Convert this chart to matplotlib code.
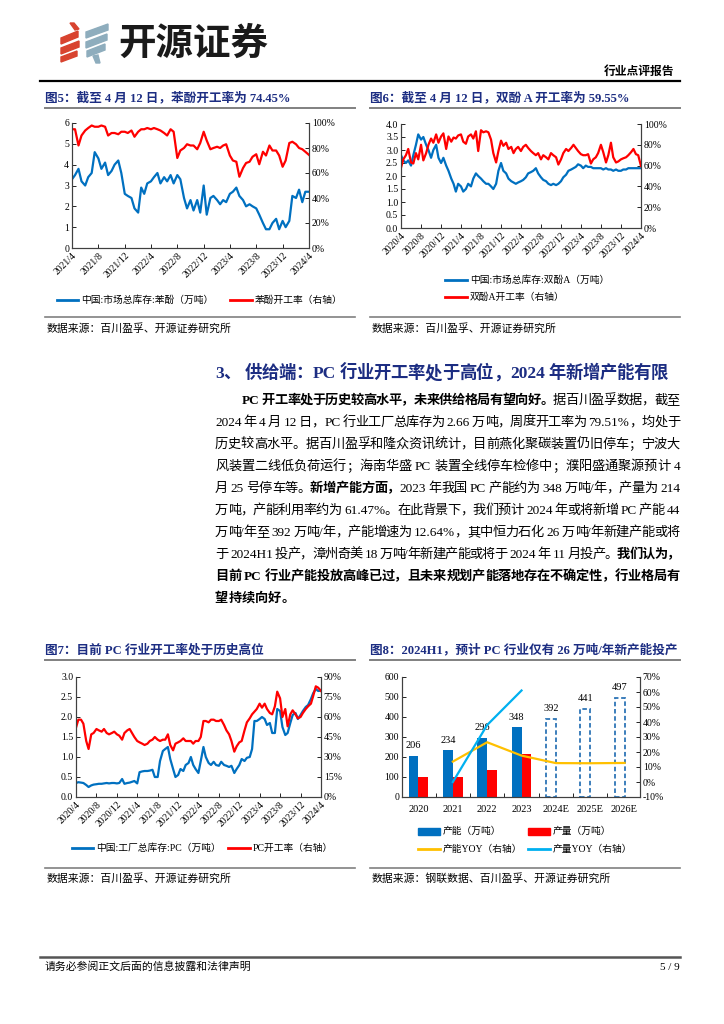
# 开源证券 行业点评报告 第5页：苯酚 / 双酚A / PC 开工率与库存

import numpy as np
import pandas as pd
import matplotlib
matplotlib.use('Agg')
import matplotlib.pyplot as plt
from matplotlib.font_manager import FontProperties
from matplotlib.patches import Polygon, Rectangle
from matplotlib.lines import Line2D
from matplotlib.ticker import FuncFormatter

# ---------------- data ----------------
# 图5 苯酚, semi-monthly from 2021/4
phenol_inv = [3.3, 3.5, 3.8, 3.2, 3.0, 3.4, 3.6, 4.6, 4.3, 3.8,
              4.1, 3.5, 3.7, 4.0, 4.2, 3.6, 2.6, 2.5, 2.4, 1.9,
              1.7, 2.9, 2.6, 3.1, 3.2, 3.4, 3.6, 3.1, 3.4, 3.2,
              3.5, 3.1, 3.5, 3.3, 2.4, 1.9, 2.3, 1.8, 2.3, 1.7,
              3.0, 1.6, 2.4, 2.5, 2.3, 2.1, 2.3, 2.2, 2.6, 2.7,
              2.9, 2.5, 2.3, 2.0, 2.1, 2.0, 1.9, 1.6, 1.2, 0.9,
              0.9, 1.2, 1.4, 0.9, 1.3, 1.0, 1.3, 2.5, 2.4, 2.8,
              2.2, 2.7, 2.7]
phenol_rate = [95, 95, 82, 90, 94, 96, 98, 97, 97, 98,
               97, 90, 92, 92, 91, 93, 93, 92, 94, 89,
               93, 95, 95, 96, 95, 96, 95, 94, 92, 90,
               95, 93, 72, 78, 80, 83, 82, 82, 79, 84,
               93, 86, 79, 80, 81, 80, 82, 83, 74, 70,
               69, 57, 64, 68, 69, 73, 75, 67, 77, 74,
               82, 78, 78, 74, 65, 70, 84, 85, 83, 80,
               79, 77, 74.45]

# 图6 双酚A, semi-monthly from 2020/4
bpa_inv = [2.8, 2.6, 2.5, 2.6, 2.4, 2.8, 3.2, 3.6, 3.4, 3.5,
           3.2, 3.0, 2.7, 3.0, 3.2, 2.7, 2.5, 2.7, 2.4, 2.2,
           1.9, 1.7, 1.4, 1.7, 1.6, 1.4, 1.5, 1.7, 1.6, 1.9,
           2.1, 2.0, 1.9, 1.8, 1.7, 1.7, 1.6, 1.5, 1.7, 2.2,
           2.5, 2.2, 2.1, 1.9, 1.8, 1.75, 1.7, 1.75, 1.8, 1.85,
           1.95, 2.1, 2.15, 2.2, 2.3, 2.1, 1.95, 1.85, 1.8, 1.7,
           1.65, 1.7, 1.65, 1.7, 1.8, 1.95, 2.05, 2.2, 2.25, 2.3,
           2.35, 2.45, 2.4, 2.3, 2.4, 2.35, 2.35, 2.3, 2.3, 2.3,
           2.3, 2.25, 2.3, 2.25, 2.25, 2.2, 2.25, 2.2, 2.2, 2.25,
           2.25, 2.3, 2.3, 2.3, 2.3, 2.3, 2.3]
bpa_rate = [58, 66, 70, 76, 63, 62, 72, 66, 80, 65,
            72, 80, 86, 82, 90, 82, 88, 91, 76, 88,
            83, 87, 86, 89, 90, 83, 81, 88, 90, 86,
            93, 74, 94, 92, 93, 92, 85, 72, 63, 74,
            84, 79, 82, 76, 78, 72, 76, 78, 74, 78,
            80, 77, 74, 72, 70, 72, 66, 70, 68, 66,
            72, 70, 68, 61, 66, 72, 76, 74, 77, 80,
            77, 74, 71, 70, 70, 71, 62, 66, 68, 72,
            80, 73, 63, 70, 82, 68, 63, 64, 66, 67,
            68, 70, 73, 76, 71, 70, 59.55]

# 图7 PC, semi-monthly from 2020/4
pc_inv = [0.35, 0.37, 0.36, 0.35, 0.3, 0.25, 0.29, 0.31, 0.32, 0.33,
          0.33, 0.34, 0.35, 0.34, 0.35, 0.35, 0.34, 0.35, 0.45, 0.33,
          0.35, 0.36, 0.38, 0.4, 0.34, 0.62, 0.64, 0.65, 0.65, 0.66,
          0.68, 0.5, 0.5, 0.9, 1.15, 1.2, 1.25, 0.95, 0.7, 0.5,
          0.55, 0.7, 0.65, 0.8, 0.85, 1.0, 0.8, 0.7, 0.6, 0.9,
          1.25, 1.0, 0.85, 0.8, 0.88, 0.8, 0.78, 0.88, 0.8, 0.78,
          0.75, 0.78, 0.6, 0.7, 0.8, 0.95, 0.9, 0.98, 1.0, 1.2,
          1.9, 1.9, 1.95, 2.0, 1.95, 1.8, 1.85, 1.6, 1.6, 2.2,
          2.15, 1.75, 1.55, 1.6, 1.85, 2.05, 2.1, 1.95, 2.05, 2.15,
          2.25, 2.3, 2.45, 2.6, 2.7, 2.65, 2.66]
pc_rate = [52, 58, 58, 55, 42, 36, 47, 48, 51, 50,
           49, 51, 48, 47, 48, 49, 47, 46, 43, 48,
           50, 51, 48, 45, 42, 41, 40, 39, 40, 42,
           43, 45, 43, 42, 43, 43, 47, 39, 35, 40,
           41, 42, 44, 42, 42, 42, 40, 42, 42, 45,
           57, 57, 56, 58, 58, 57, 57, 58, 54, 50,
           47, 42, 34, 38, 41, 42, 50, 56, 59, 62,
           64, 66, 70, 67, 70, 66, 63, 62, 68, 79,
           74, 60, 66, 53, 62, 65, 62, 59, 60, 63,
           66, 68, 70, 76, 83, 82, 79.51]

# 图8 PC 产能 / 产量
years8 = ['2020', '2021', '2022', '2023', '2024E', '2025E', '2026E']
capacity = [206, 234, 296, 348, 392, 441, 497]
output = [98, 98, 135, 214]
cap_yoy = [13.6, 26.5, 17.6, 12.6, 12.5, 12.7]   # from 2021
out_yoy = [0.0, 38.0, 61.0]                      # from 2021

body = [
    [('PC 开工率处于历史较高水平，未来供给格局有望向好。', True), ('据百川盈孚数据，截至', False)],
    [('2024 年 4 月 12 日，PC 行业工厂总库存为 2.66 万吨，周度开工率为 79.51%，均处于', False)],
    [('历史较高水平。据百川盈孚和隆众资讯统计，目前燕化聚碳装置仍旧停车；宁波大', False)],
    [('风装置二线低负荷运行；海南华盛 PC 装置全线停车检修中；濮阳盛通聚源预计 4', False)],
    [('月 25 号停车等。', False), ('新增产能方面，', True),
     ('2023 年我国 PC 产能约为 348 万吨/年，产量为 214', False)],
    [('万吨，产能利用率约为 61.47%。在此背景下，我们预计 2024 年或将新增 PC 产能 44', False)],
    [('万吨/年至 392 万吨/年，产能增速为 12.64%，其中恒力石化 26 万吨/年新建产能或将', False)],
    [('于 2024H1 投产，漳州奇美 18 万吨/年新建产能或将于 2024 年 11 月投产。', False), ('我们认为，', True)],
    [('目前 PC 行业产能投放高峰已过，且未来规划产能落地存在不确定性，行业格局有', True)],
    [('望持续向好。', True)],
]

# ---------------- styling ----------------
W, H = 724, 1024
FAM = ['Liberation Serif', 'Noto Sans CJK SC']
plt.rcParams['font.family'] = FAM
plt.rcParams['axes.unicode_minus'] = False

NAVY = '#1c2d82'
BLUE = '#0070c0'
RED = '#ff0000'
YELLOW = '#ffc000'
CYAN = '#00b0f0'
GREY = '#808080'

fig = plt.figure(figsize=(W / 100, H / 100), dpi=100)
fig.patch.set_facecolor('white')
renderer = fig.canvas.get_renderer()


def fx(x):
    return x / W


def fy(y):
    return 1 - y / H


def add_ax(x0, y0, x1, y1):
    return fig.add_axes([fx(x0), fy(y1), (x1 - x0) / W, (y1 - y0) / H])


def hline(x0, x1, y, color, lw):
    fig.add_artist(Line2D([fx(x0), fx(x1)], [fy(y), fy(y)], color=color, lw=lw,
                          transform=fig.transFigure))


def adv(s, size, bold):
    # advance width of a token in pixels
    fp = FontProperties(family=FAM, size=size, weight='bold' if bold else 'normal')
    w1 = renderer.get_text_width_height_descent('x' + s + 'x', fp, ismath=False)[0]
    w0 = renderer.get_text_width_height_descent('xx', fp, ismath=False)[0]
    return w1 - w0


def tokens(segs):
    out = []
    for s, bold in segs:
        buf = ''
        for ch in s:
            if ch.isascii() and ch != ' ':
                buf += ch
                continue
            if buf:
                out.append((buf, bold))
                buf = ''
            out.append((ch, bold))
        if buf:
            out.append((buf, bold))
    return out


def text_line(segs, x0, y, size, color='black', x1=None):
    toks = tokens(segs)
    ws = [adv(t, size, b) for t, b in toks]
    gap = 0
    if x1 is not None and len(toks) > 1:
        gap = (x1 - x0 - sum(ws)) / (len(toks) - 1)
    base = y + 0.36 * size * 100 / 72
    x = x0
    for (t, b), w in zip(toks, ws):
        if t != ' ':
            fig.text(fx(x), fy(base), t, fontsize=size, color=color,
                     fontweight='bold' if b else 'normal', ha='left', va='baseline')
        x += w + gap


def legend_line(x0, x1, y, color, label, lw=2.0):
    fig.add_artist(Line2D([fx(x0), fx(x1)], [fy(y), fy(y)], color=color, lw=lw,
                          transform=fig.transFigure))
    fig.text(fx(x1 + 3), fy(y), label, fontsize=7, va='center', ha='left')


def legend_box(x0, x1, y, color, label):
    fig.add_artist(Rectangle((fx(x0), fy(y + 3.5)), (x1 - x0) / W, 7 / H, color=color,
                             transform=fig.transFigure))
    fig.text(fx(x1 + 3), fy(y), label, fontsize=7, va='center', ha='left')


def style(ax, ax2):
    for a in (ax, ax2):
        a.spines['top'].set_visible(False)
        for s in a.spines.values():
            s.set_color('#404040')
            s.set_linewidth(0.8)
        a.tick_params(direction='in', length=3, width=0.6, labelsize=7, pad=2)


pct = FuncFormatter(lambda v, p: f'{v:.0f}%')


def date_axis(ax, start, end):
    ticks = pd.date_range(start, end, freq='4MS')
    ax.set_xlim(pd.Timestamp(start), pd.Timestamp(end))
    ax.set_xticks(ticks)
    ax.set_xticklabels([f'{d.year}/{d.month}' for d in ticks], rotation=45,
                       ha='right', rotation_mode='anchor')


# ---------------- header ----------------
red_bars = [[(70, 23), (74, 23), (79, 29), (75, 30)],
            [(61, 38), (78, 31), (78, 37), (61, 44)],
            [(61, 48), (79, 41), (79, 47), (61, 54)],
            [(61, 57), (77, 51), (77, 56), (61, 62)]]
grey_bars = [[(86, 32), (108, 24), (108, 30), (86, 38)],
             [(86, 42), (107, 34), (107, 40), (86, 48)],
             [(87, 51), (105, 44), (105, 50), (87, 57)],
             [(93, 56), (98, 55), (100, 63), (96, 63)]]
for pts in red_bars:
    fig.add_artist(Polygon([(fx(a), fy(b)) for a, b in pts], closed=True, color='#d8432f',
                           transform=fig.transFigure))
for pts in grey_bars:
    fig.add_artist(Polygon([(fx(a), fy(b)) for a, b in pts], closed=True, color='#8eadbd',
                           transform=fig.transFigure))
fig.text(fx(118), fy(43), '开源证券', fontsize=27, fontweight='bold', color='#1a1a1a',
         va='center', ha='left', family='Noto Sans CJK SC')
fig.text(fx(674), fy(72), '行业点评报告', fontsize=8.5, fontweight='bold', va='center', ha='right')
hline(40, 680, 81, 'black', 1.6)

# chart titles, top row
fig.text(fx(45), fy(98), '图5：截至 4 月 12 日，苯酚开工率为 74.45%', fontsize=9.1,
         fontweight='bold', color=NAVY, va='center')
fig.text(fx(370), fy(98), '图6：截至 4 月 12 日，双酚 A 开工率为 59.55%', fontsize=9.1,
         fontweight='bold', color=NAVY, va='center')
hline(45, 355, 108, GREY, 1.4)
hline(370, 680, 108, GREY, 1.4)

# ---------------- 图5 ----------------
ax5 = add_ax(72, 123, 309, 248)
ax5.plot(pd.date_range('2021-04-01', periods=len(phenol_inv), freq='SMS'), phenol_inv,
         color=BLUE, lw=1.6)
ax5b = ax5.twinx()
ax5b.plot(pd.date_range('2021-04-01', periods=len(phenol_rate), freq='SMS'), phenol_rate,
          color=RED, lw=1.6)
ax5.set_ylim(0, 6)
ax5.set_yticks(range(0, 7))
ax5b.set_ylim(0, 100)
ax5b.set_yticks(range(0, 101, 20))
ax5b.yaxis.set_major_formatter(pct)
date_axis(ax5, '2021-04-01', '2024-04-01')
style(ax5, ax5b)
legend_line(57, 78, 300, BLUE, '中国:市场总库存:苯酚（万吨）')
legend_line(230, 252, 300, RED, '苯酚开工率（右轴）')
hline(45, 355, 317, GREY, 1.2)
fig.text(fx(47), fy(328), '数据来源：百川盈孚、开源证券研究所', fontsize=7.8, va='center')

# ---------------- 图6 ----------------
ax6 = add_ax(401, 124, 641, 228)
ax6.plot(pd.date_range('2020-04-01', periods=len(bpa_inv), freq='SMS'), bpa_inv,
         color=BLUE, lw=1.6)
ax6b = ax6.twinx()
ax6b.plot(pd.date_range('2020-04-01', periods=len(bpa_rate), freq='SMS'), bpa_rate,
          color=RED, lw=1.6)
ax6.set_ylim(0, 4)
ax6.set_yticks(np.arange(0, 4.01, 0.5))
ax6.yaxis.set_major_formatter(FuncFormatter(lambda v, p: f'{v:.1f}'))
ax6b.set_ylim(0, 100)
ax6b.set_yticks(range(0, 101, 20))
ax6b.yaxis.set_major_formatter(pct)
date_axis(ax6, '2020-04-01', '2024-04-01')
style(ax6, ax6b)
legend_line(445, 467, 280, BLUE, '中国:市场总库存:双酚A（万吨）')
legend_line(445, 467, 297, RED, '双酚A开工率（右轴）')
hline(370, 680, 317, GREY, 1.2)
fig.text(fx(372), fy(328), '数据来源：百川盈孚、开源证券研究所', fontsize=7.8, va='center')

# ---------------- section text ----------------
text_line([('3、 供给端：PC 行业开工率处于高位，2024 年新增产能有限', True)], 215, 372, 12.5,
          color=NAVY, x1=668)
for i, segs in enumerate(body):
    x0 = 242 if i == 0 else 215
    x1 = None if i == len(body) - 1 else 680
    text_line(segs, x0, 399 + i * 22, 9.5, x1=x1)

# chart titles, bottom row
fig.text(fx(45), fy(650), '图7：目前 PC 行业开工率处于历史高位', fontsize=9.1,
         fontweight='bold', color=NAVY, va='center')
fig.text(fx(370), fy(650), '图8：2024H1，预计 PC 行业仅有 26 万吨/年新产能投产', fontsize=9.1,
         fontweight='bold', color=NAVY, va='center')
hline(45, 355, 660, GREY, 1.4)
hline(370, 680, 660, GREY, 1.4)

# ---------------- 图7 ----------------
ax7 = add_ax(76, 677, 321, 797)
ax7.plot(pd.date_range('2020-04-01', periods=len(pc_inv), freq='SMS'), pc_inv,
         color=BLUE, lw=1.6)
ax7b = ax7.twinx()
ax7b.plot(pd.date_range('2020-04-01', periods=len(pc_rate), freq='SMS'), pc_rate,
          color=RED, lw=1.6)
ax7.set_ylim(0, 3)
ax7.set_yticks(np.arange(0, 3.01, 0.5))
ax7.yaxis.set_major_formatter(FuncFormatter(lambda v, p: f'{v:.1f}'))
ax7b.set_ylim(0, 90)
ax7b.set_yticks(range(0, 91, 15))
ax7b.yaxis.set_major_formatter(pct)
date_axis(ax7, '2020-04-01', '2024-04-01')
style(ax7, ax7b)
legend_line(72, 93, 848, BLUE, '中国:工厂总库存:PC（万吨）')
legend_line(228, 250, 848, RED, 'PC开工率（右轴）')
hline(45, 355, 868, GREY, 1.2)
fig.text(fx(47), fy(878), '数据来源：百川盈孚、开源证券研究所', fontsize=7.8, va='center')

# ---------------- 图8 ----------------
ax8 = add_ax(402, 677, 640, 797)
x8 = np.arange(len(years8))
bw = 0.29
n_act = len(output)
ax8.bar(x8[:n_act] - bw / 2, capacity[:n_act], bw, color=BLUE, zorder=2)
ax8.bar(x8[:n_act] + bw / 2, output, bw, color=RED, zorder=2)
ax8.bar(x8[n_act:] - bw / 2, capacity[n_act:], bw, fill=False, edgecolor='#2e75b6',
        linestyle=(0, (2.5, 1.5)), linewidth=1.3, zorder=2)
for xi, v in zip(x8, capacity):
    ax8.annotate(str(v), (xi - bw / 2, v), xytext=(0, 4), textcoords='offset points',
                 ha='center', va='bottom', fontsize=7.5)
ax8b = ax8.twinx()
ax8b.plot(x8[1:], cap_yoy, color=YELLOW, lw=1.6, zorder=3)
ax8b.plot(x8[1:1 + len(out_yoy)], out_yoy, color=CYAN, lw=1.6, zorder=3)
ax8.set_ylim(0, 600)
ax8.set_yticks(range(0, 601, 100))
ax8b.set_ylim(-10, 70)
ax8b.set_yticks(range(-10, 71, 10))
ax8b.yaxis.set_major_formatter(pct)
ax8.set_xlim(-0.48, 6.45)
ax8.set_xticks(x8)
ax8.set_xticklabels(years8)
style(ax8, ax8b)
ax8.tick_params(axis='x', length=0, labelsize=7.5, pad=6)
ax8.set_xticks(x8[:-1] + 0.5, minor=True)
ax8.tick_params(axis='x', which='minor', direction='in', length=3, width=0.6)
legend_box(418, 440, 831, BLUE, '产能（万吨）')
legend_box(528, 550, 831, RED, '产量（万吨）')
legend_line(418, 440, 849, YELLOW, '产能YOY（右轴）')
legend_line(528, 550, 849, CYAN, '产量YOY（右轴）')
hline(370, 680, 868, GREY, 1.2)
fig.text(fx(372), fy(878), '数据来源：钢联数据、百川盈孚、开源证券研究所', fontsize=7.8, va='center')

# ---------------- footer ----------------
hline(40, 680, 957, '#555555', 1.8)
fig.text(fx(45), fy(967), '请务必参阅正文后面的信息披露和法律声明', fontsize=7.8, va='center')
fig.text(fx(680), fy(967), '5 / 9', fontsize=8, va='center', ha='right')

fig.savefig('out.png', dpi=100)
